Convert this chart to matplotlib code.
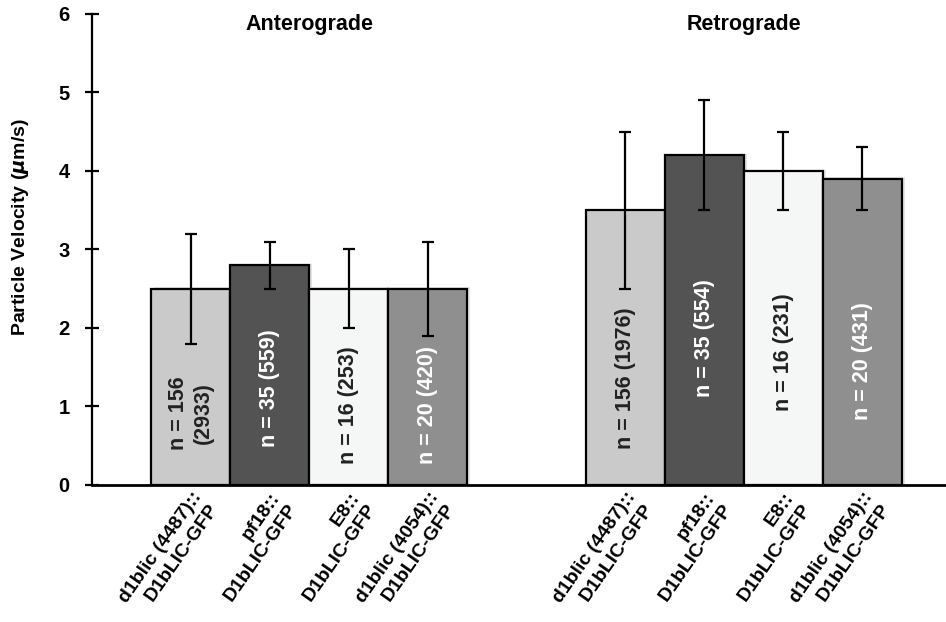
import matplotlib.pyplot as plt
import matplotlib.patheffects as pe

plt.rcParams['font.family'] = ['Liberation Sans', 'DejaVu Sans']
plt.rcParams['font.weight'] = 'bold'

# data
strains = ['d1blic (4487)::\nD1bLIC-GFP', 'pf18::\nD1bLIC-GFP',
           'E8::\nD1bLIC-GFP', 'd1blic (4054)::\nD1bLIC-GFP']
groups = ['Anterograde', 'Retrograde']
antero = [2.5, 2.8, 2.5, 2.5]
antero_err = [0.7, 0.3, 0.5, 0.6]
retro = [3.5, 4.2, 4.0, 3.9]
retro_err = [1.0, 0.7, 0.5, 0.4]
antero_n = ['n = 156\n(2933)', 'n = 35 (559)', 'n = 16 (253)', 'n = 20 (420)']
retro_n = ['n = 156 (1976)', 'n = 35 (554)', 'n = 16 (231)', 'n = 20 (431)']
colors = ['#cacaca', '#535353', '#f5f6f6', '#8f8f8f']
text_colors = ['#222222', 'white', '#222222', 'white']

fig = plt.figure(figsize=(9.46, 6.22), dpi=100)
ax = fig.add_axes([0.0973, 0.2203, 0.9027, 0.7572])

group_x = [0, 5.5]
label_y = [[0.92, 1.24, 1.02, 1.02], [1.36, 1.87, 1.69, 1.58]]
shadow = [pe.SimplePatchShadow(offset=(2, 1), alpha=0.12), pe.Normal()]

ticks = []
ticklabels = []
for g, (vals, errs, ns) in enumerate([(antero, antero_err, antero_n),
                                      (retro, retro_err, retro_n)]):
    xs = [group_x[g] + i for i in range(4)]
    bars = ax.bar(xs, vals, width=1.0, color=colors, edgecolor='black',
                  linewidth=1.6, zorder=2)
    for b in bars:
        b.set_path_effects(shadow)
    ax.errorbar(xs, vals, yerr=errs, fmt='none', ecolor='black',
                elinewidth=1.6, capsize=4.5, capthick=1.6, zorder=3)
    for i in range(4):
        ax.text(xs[i], label_y[g][i], ns[i], rotation=90, ha='center',
                va='center', fontsize=15.5, color=text_colors[i],
                fontweight='bold', zorder=4, linespacing=1.2)
    ax.text(group_x[g] + 1.5, 5.86, groups[g], ha='center', va='center',
            fontsize=15.5, fontweight='bold')
    ticks += xs
    ticklabels += strains

ax.set_xlim(-1.25, 9.56)
ax.set_ylim(0, 6)
ax.set_yticks(range(7))
ax.tick_params(axis='y', direction='inout', length=10, width=1.6,
               labelsize=14.5, pad=11)
ax.set_xticks(ticks)
ax.set_xticklabels(ticklabels, rotation=55, ha='right', va='top',
                   rotation_mode='anchor', fontsize=14, fontweight='bold',
                   multialignment='right', linespacing=1.3)
ax.tick_params(axis='x', length=0, pad=3)
ax.spines['top'].set_visible(False)
ax.spines['right'].set_visible(False)
ax.spines['left'].set_linewidth(1.6)
ax.spines['bottom'].set_linewidth(2)
ax.set_ylabel('Particle Velocity ($\\mathbfit{\\mu}$m/s)', fontsize=14,
              fontweight='bold')
ax.yaxis.set_label_coords(-0.071, 0.548)

fig.savefig('out.png', dpi=100)
